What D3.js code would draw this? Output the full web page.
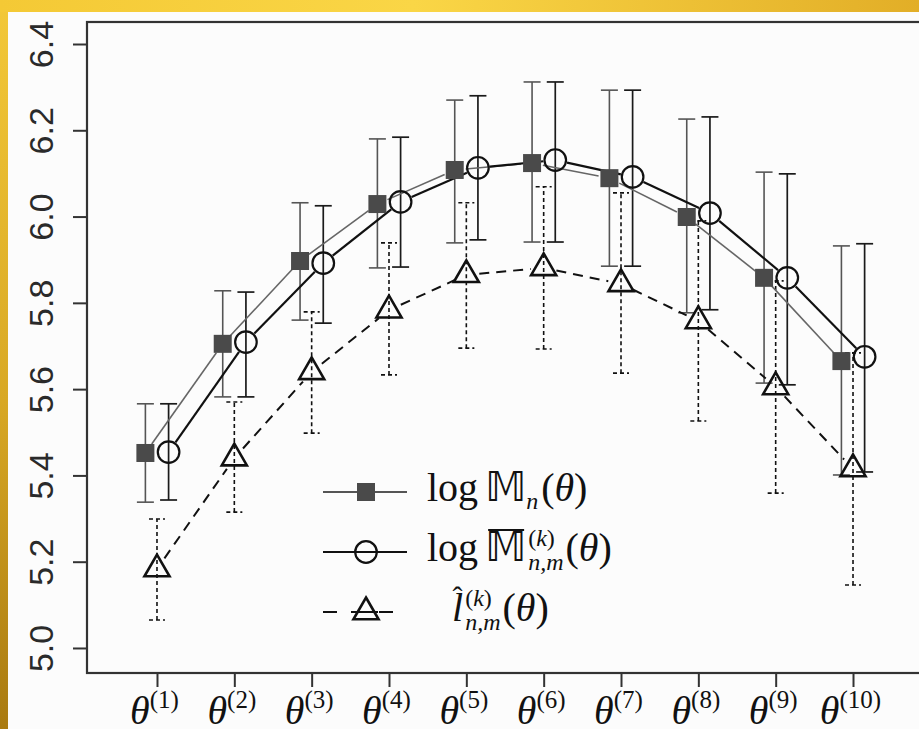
<!DOCTYPE html>
<html>
<head>
<meta charset="utf-8">
<script src="https://cdn.jsdelivr.net/npm/d3@7"></script>
<style>
  html, body { margin: 0; padding: 0; background: #fff; }
  svg { display: block; }
</style>
</head>
<body>
<svg id="chart" width="919" height="729"></svg>
<script>
// ---------------- data ----------------
const categories = [1, 2, 3, 4, 5, 6, 7, 8, 9, 10];
const tickSup = ["(1)", "(2)", "(3)", "(4)", "(5)", "(6)", "(7)", "(8)", "(9)", "(10)"];
const yTicks = [5.0, 5.2, 5.4, 5.6, 5.8, 6.0, 6.2, 6.4];

// log M_n(theta)  (filled squares)
const logM    = [5.452, 5.705, 5.897, 6.029, 6.108, 6.124, 6.089, 5.999, 5.858, 5.665];
const logMLo  = [5.338, 5.582, 5.760, 5.881, 5.939, 5.941, 5.885, 5.777, 5.614, 5.401];
const logMHi  = [5.566, 5.828, 6.032, 6.180, 6.270, 6.312, 6.293, 6.226, 6.103, 5.932];

// log Mbar_{n,m}^{(k)}(theta)  (open circles)
const logMbar   = [5.454, 5.709, 5.892, 6.034, 6.113, 6.131, 6.092, 6.008, 5.858, 5.675];
const logMbarLo = [5.343, 5.582, 5.753, 5.883, 5.946, 5.941, 5.885, 5.784, 5.610, 5.408];
const logMbarHi = [5.566, 5.825, 6.025, 6.184, 6.280, 6.312, 6.293, 6.231, 6.099, 5.937];

// lhat_{n,m}^{(k)}(theta)  (open triangles)
const lHat   = [5.183, 5.440, 5.640, 5.783, 5.865, 5.881, 5.844, 5.758, 5.605, 5.415];
const lHatLo = [5.065, 5.315, 5.498, 5.633, 5.695, 5.693, 5.637, 5.526, 5.359, 5.146];
const lHatHi = [5.299, 5.570, 5.779, 5.939, 6.032, 6.069, 6.055, 5.990, 5.851, 5.684];

// ---------------- layout ----------------
const W = 919, H = 729;
const plot = { left: 87, right: 923, top: 22, bottom: 673 };
const serif = "'Liberation Serif', 'DejaVu Serif', serif";
const sans = "'Liberation Sans', Arial, sans-serif";

const svg = d3.select("#chart");
const defs = svg.append("defs");

// gold frame
const gTop = defs.append("linearGradient").attr("id", "gTop").attr("x1", 0).attr("x2", 1).attr("y1", 0).attr("y2", 0);
gTop.append("stop").attr("offset", "0%").attr("stop-color", "#f4c935");
gTop.append("stop").attr("offset", "45%").attr("stop-color", "#fad646");
gTop.append("stop").attr("offset", "100%").attr("stop-color", "#e2ae27");
const gLeft = defs.append("linearGradient").attr("id", "gLeft").attr("x1", 0).attr("x2", 0).attr("y1", 0).attr("y2", 1);
gLeft.append("stop").attr("offset", "0%").attr("stop-color", "#f3c838");
gLeft.append("stop").attr("offset", "55%").attr("stop-color", "#d8a824");
gLeft.append("stop").attr("offset", "100%").attr("stop-color", "#a97a10");

svg.append("rect").attr("x", 0).attr("y", 0).attr("width", W).attr("height", H).attr("fill", "url(#gLeft)");
svg.append("rect").attr("x", 0).attr("y", 0).attr("width", W).attr("height", 12).attr("fill", "url(#gTop)");
svg.append("rect").attr("x", 8).attr("y", 12).attr("width", W - 8).attr("height", H - 12).attr("fill", "#fcfcfc");

// scales
const x = d3.scaleLinear().domain([0.095, 10.905]).range([plot.left, plot.right]);
const y = d3.scaleLinear().domain([4.942, 6.451]).range([plot.bottom, plot.top]);
const dodge = 0.15;

// axes
const yAxis = svg.append("g").attr("transform", `translate(${plot.left},0)`)
  .call(d3.axisLeft(y).tickValues(yTicks).tickSize(14).tickFormat(d3.format(".1f")));
yAxis.select(".domain").remove();
yAxis.selectAll(".tick line").attr("stroke", "#333").attr("stroke-width", 2);
yAxis.selectAll(".tick text")
  .attr("x", null).attr("dy", null)
  .attr("text-anchor", "middle")
  .attr("transform", "translate(-34,0) rotate(-90)")
  .attr("font-family", sans).attr("font-size", 34).attr("fill", "#2a2a2a");

const xAxis = svg.append("g").attr("transform", `translate(0,${plot.bottom})`)
  .call(d3.axisBottom(x).tickValues(categories).tickSize(14).tickFormat(""));
xAxis.select(".domain").remove();
xAxis.selectAll(".tick line").attr("stroke", "#333").attr("stroke-width", 2);
xAxis.selectAll(".tick").each(function (d, i) {
  const t = d3.select(this).append("text")
    .attr("x", -3).attr("y", 51)
    .attr("text-anchor", "middle")
    .attr("font-family", serif).attr("fill", "#111");
  t.append("tspan").attr("font-style", "italic").attr("font-size", 40).text("θ");
  t.append("tspan").attr("font-size", 25).attr("dy", -16).text(tickSup[i]);
});

// frame
svg.append("rect")
  .attr("x", plot.left).attr("y", plot.top)
  .attr("width", plot.right - plot.left).attr("height", plot.bottom - plot.top)
  .attr("fill", "none").attr("stroke", "#333").attr("stroke-width", 2.2);

// helpers
function gappedLines(g, xs, ys, gap, style) {
  for (let i = 0; i < xs.length - 1; i++) {
    const x0 = x(xs[i]), y0 = y(ys[i]), x1 = x(xs[i + 1]), y1 = y(ys[i + 1]);
    const dx = x1 - x0, dy = y1 - y0, L = Math.hypot(dx, dy);
    if (L <= 2 * gap) continue;
    const ux = dx / L, uy = dy / L;
    const ln = g.append("line")
      .attr("x1", x0 + ux * gap).attr("y1", y0 + uy * gap)
      .attr("x2", x1 - ux * gap).attr("y2", y1 - uy * gap);
    Object.entries(style).forEach(([k, v]) => ln.attr(k, v));
  }
}
function errorBars(g, xs, lo, hi, style, cap) {
  xs.forEach((xv, i) => {
    const xx = x(xv);
    const segs = [[xx, y(lo[i]), xx, y(hi[i])], [xx - cap, y(hi[i]), xx + cap, y(hi[i])], [xx - cap, y(lo[i]), xx + cap, y(lo[i])]];
    segs.forEach(s => {
      const ln = g.append("line").attr("x1", s[0]).attr("y1", s[1]).attr("x2", s[2]).attr("y2", s[3]);
      Object.entries(style).forEach(([k, v]) => ln.attr(k, v));
    });
  });
}
const triR = 14.5;
function triPath(cx, cy, r) {
  const xc = r * 0.866;
  return `M${cx},${cy - r}L${cx + xc},${cy + r / 2}L${cx - xc},${cy + r / 2}Z`;
}

const xsSq = categories.map(c => c - dodge);
const xsCi = categories.map(c => c + dodge);
const xsTr = categories;

const gE = svg.append("g");
const gL = svg.append("g");
const gM = svg.append("g");

// error bars
errorBars(gE, xsTr, lHatLo, lHatHi, { stroke: "#111", "stroke-width": 1.6, "stroke-dasharray": "4,3" }, 8);
errorBars(gE, xsSq, logMLo, logMHi, { stroke: "#555", "stroke-width": 1.6 }, 8.5);
errorBars(gE, xsCi, logMbarLo, logMbarHi, { stroke: "#1a1a1a", "stroke-width": 1.7 }, 8.5);

// connecting lines (type = "b")
gappedLines(gL, xsTr, lHat, 13, { stroke: "#111", "stroke-width": 2, "stroke-dasharray": "10,7" });
gappedLines(gL, xsSq, logM, 11, { stroke: "#666", "stroke-width": 1.6 });
gappedLines(gL, xsCi, logMbar, 12, { stroke: "#111", "stroke-width": 2.2 });

// markers
gM.selectAll("rect.sq").data(logM).enter().append("rect")
  .attr("x", (d, i) => x(xsSq[i]) - 9).attr("y", d => y(d) - 9)
  .attr("width", 18).attr("height", 18).attr("fill", "#4a4a4a");
gM.selectAll("circle.ci").data(logMbar).enter().append("circle")
  .attr("cx", (d, i) => x(xsCi[i])).attr("cy", d => y(d)).attr("r", 10.8)
  .attr("fill", "none").attr("stroke", "#111").attr("stroke-width", 2.2);
gM.selectAll("path.tr").data(lHat).enter().append("path")
  .attr("d", (d, i) => triPath(x(xsTr[i]), y(d), triR))
  .attr("fill", "none").attr("stroke", "#111").attr("stroke-width", 2.6).attr("stroke-linejoin", "miter");

// ---------------- legend ----------------
const legX0 = 323, legX1 = 407, legMid = 366, legText = 427;
const legRows = [492, 552, 612];
const lg = svg.append("g");
// row 1
lg.append("line").attr("x1", legX0).attr("x2", legX1).attr("y1", legRows[0]).attr("y2", legRows[0]).attr("stroke", "#555").attr("stroke-width", 1.8);
lg.append("rect").attr("x", legMid - 9).attr("y", legRows[0] - 9).attr("width", 18).attr("height", 18).attr("fill", "#4a4a4a");
// row 2
lg.append("line").attr("x1", legX0).attr("x2", legX1).attr("y1", legRows[1]).attr("y2", legRows[1]).attr("stroke", "#111").attr("stroke-width", 2.2);
lg.append("circle").attr("cx", legMid).attr("cy", legRows[1]).attr("r", 10.8).attr("fill", "none").attr("stroke", "#111").attr("stroke-width", 2.2);
// row 3
lg.append("line").attr("x1", legX0).attr("x2", legX1).attr("y1", legRows[2]).attr("y2", legRows[2]).attr("stroke", "#111").attr("stroke-width", 2).attr("stroke-dasharray", "14,14");
lg.append("path").attr("d", triPath(legMid, legRows[2], triR)).attr("fill", "#fcfcfc").attr("stroke", "#111").attr("stroke-width", 2.6);
lg.append("line").attr("x1", legMid - 12).attr("x2", legMid + 12).attr("y1", legRows[2]).attr("y2", legRows[2]).attr("stroke", "#111").attr("stroke-width", 2);

const FS = 40, FSs = 24;
// segs: array of [text, italic]
function put(segs, xx, yy, opts = {}) {
  const t = lg.append("text").attr("x", xx).attr("y", yy)
    .attr("font-family", opts.family || serif)
    .attr("font-size", opts.size || FS)
    .attr("fill", "#111");
  segs.forEach(s => t.append("tspan").attr("font-style", s[1] ? "italic" : "normal").text(s[0]));
  return t.node().getComputedTextLength();
}
const kSup = [["(", false], ["k", true], [")", false]];
const nmSub = [["n,m", true]];
function mathRow(yRow, pieces, startX) {
  let cx = startX;
  const base = yRow + 9;
  pieces.forEach(p => {
    if (p.stack) {
      const w1 = put(p.stack[0], cx, base - 15, { size: FSs });
      const w2 = put(p.stack[1], cx, base + 9, { size: FSs });
      cx += Math.max(w1, w2) + 2;
    } else if (p.sub) {
      cx += put([[p.sub, p.italic]], cx, base + 8, { size: FSs }) + 3;
    } else {
      const w = put([[p.t, p.italic]], cx, base, { family: p.family });
      if (p.bar) {
        lg.append("line").attr("x1", cx + 3).attr("x2", cx + w - 2).attr("y1", base - 31).attr("y2", base - 31)
          .attr("stroke", "#111").attr("stroke-width", 2);
      }
      if (p.hat) {
        put([["ˆ", false]], cx + w / 2 - 5, base - 14, { size: 30 });
      }
      cx += w + (p.space || 0);
    }
  });
}
mathRow(legRows[0], [
  { t: "log", space: 7 },
  { t: "𝕄", family: "'DejaVu Sans', sans-serif" },
  { sub: "n", italic: true },
  { t: "(" }, { t: "θ", italic: true }, { t: ")" }
], legText);
mathRow(legRows[1], [
  { t: "log", space: 7 },
  { t: "𝕄", family: "'DejaVu Sans', sans-serif", bar: true, space: 2 },
  { stack: [kSup, nmSub] },
  { t: "(" }, { t: "θ", italic: true }, { t: ")" }
], legText);
mathRow(legRows[2], [
  { t: "l", italic: true, hat: true, space: 2 },
  { stack: [kSup, nmSub] },
  { t: "(" }, { t: "θ", italic: true }, { t: ")" }
], 452);
</script>
</body>
</html>
